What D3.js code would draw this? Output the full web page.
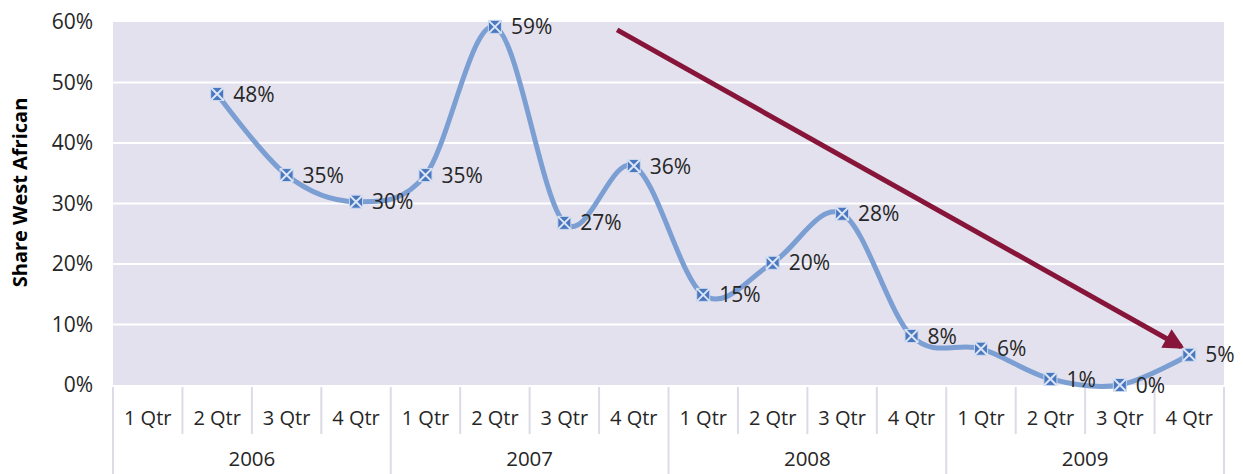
<!DOCTYPE html>
<html>
<head>
<meta charset="utf-8">
<script src="https://cdn.jsdelivr.net/npm/d3@7"></script>
<style>
  html, body { margin: 0; padding: 0; background: #ffffff; }
  svg { display: block; font-family: "Open Sans", "DejaVu Sans", sans-serif; }
</style>
</head>
<body>
<svg id="chart" width="1243" height="474"></svg>
<script>
// Quarterly share of West African, 2006–2009
const years = ["2006", "2007", "2008", "2009"];
const quarters = ["1 Qtr", "2 Qtr", "3 Qtr", "4 Qtr"];
const shareValues = [
  null, 0.481, 0.347, 0.303,
  0.347, 0.592, 0.268, 0.362,
  0.149, 0.202, 0.283, 0.081,
  0.060, 0.010, 0.000, 0.050
];
const yTicks = [0, 0.1, 0.2, 0.3, 0.4, 0.5, 0.6];
// downward trend arrow, in category-index / value units
const trendFrom = { index: 6.76, value: 0.587 };
const trendTo = { index: 14.94, value: 0.0595 };

const svg = d3.select("#chart");
const W = 1243, H = 474;
const plot = { left: 113, right: 1224, top: 22, bottom: 385 };
const textColor = "#262626";

const categories = [];
years.forEach(y => quarters.forEach(q => categories.push({ key: y + "|" + q, year: y, quarter: q })));

const x = d3.scaleBand()
  .domain(categories.map(c => c.key))
  .range([plot.left, plot.right]);
const xc = key => x(key) + x.bandwidth() / 2;
const xIdx = i => plot.left + (i + 0.5) * x.bandwidth();

const y = d3.scaleLinear().domain([0, 0.6]).range([plot.bottom, plot.top]);

// plot background
svg.append("rect")
  .attr("x", plot.left).attr("y", plot.top)
  .attr("width", plot.right - plot.left).attr("height", plot.bottom - plot.top)
  .attr("fill", "#e3e1ed");

// horizontal gridlines
svg.append("g")
  .selectAll("line")
  .data(yTicks.slice(1, -1))
  .join("line")
  .attr("x1", plot.left).attr("x2", plot.right)
  .attr("y1", d => y(d)).attr("y2", d => y(d))
  .attr("stroke", "#ffffff").attr("stroke-width", 2);

// y axis labels
const yAxis = d3.axisLeft(y).tickValues(yTicks).tickFormat(d3.format(".0%")).tickSize(0).tickPadding(20);
const yg = svg.append("g").attr("transform", `translate(${plot.left},0)`).call(yAxis);
yg.select(".domain").remove();
yg.selectAll("text")
  .attr("font-size", 21).attr("fill", textColor)
  .attr("font-family", "'Open Sans', sans-serif");

// y axis title
svg.append("text")
  .attr("transform", `translate(27,${(plot.top + plot.bottom) / 2 - 11}) rotate(-90)`)
  .attr("text-anchor", "middle")
  .attr("font-size", 20).attr("font-weight", "bold").attr("fill", "#000")
  .text("Share West African");

// category axis: quarter and year dividers
const axisG = svg.append("g");
const divColor = "#dcdbe7";
categories.forEach((c, i) => {
  const xl = x(c.key);
  const isYearStart = i % 4 === 0;
  axisG.append("line")
    .attr("x1", xl).attr("x2", xl)
    .attr("y1", plot.bottom + 2)
    .attr("y2", isYearStart ? H : 434)
    .attr("stroke", divColor).attr("stroke-width", 2);
});
axisG.append("line")
  .attr("x1", plot.right).attr("x2", plot.right)
  .attr("y1", plot.bottom + 2).attr("y2", H)
  .attr("stroke", divColor).attr("stroke-width", 2);

axisG.selectAll("text.q")
  .data(categories)
  .join("text")
  .attr("class", "q")
  .attr("x", d => xc(d.key)).attr("y", 425)
  .attr("text-anchor", "middle")
  .attr("font-size", 20).attr("fill", textColor)
  .text(d => d.quarter);

axisG.selectAll("text.yr")
  .data(years)
  .join("text")
  .attr("class", "yr")
  .attr("x", d => (x(d + "|1 Qtr") + x(d + "|4 Qtr") + x.bandwidth()) / 2)
  .attr("y", 466)
  .attr("text-anchor", "middle")
  .attr("font-size", 20.5).attr("fill", textColor)
  .text(d => d);

// data points
const pts = shareValues
  .map((v, i) => ({ v, i, key: categories[i].key }))
  .filter(d => d.v !== null);

// smoothed series line
const line = d3.line()
  .x(d => xc(d.key)).y(d => y(d.v))
  .curve(d3.curveCatmullRom.alpha(0));

svg.append("path")
  .datum(pts)
  .attr("d", line)
  .attr("fill", "none")
  .attr("stroke", "#7b9ed3")
  .attr("stroke-width", 5)
  .attr("stroke-linecap", "round");

// trend arrow
const defs = svg.append("defs");
defs.append("marker")
  .attr("id", "arrowhead")
  .attr("viewBox", "0 0 10 10")
  .attr("refX", 8).attr("refY", 5)
  .attr("markerWidth", 4.6).attr("markerHeight", 4.2)
  .attr("markerUnits", "strokeWidth")
  .attr("orient", "auto")
  .append("path")
  .attr("d", "M0,0 L10,5 L0,10 Z")
  .attr("fill", "#861539");

const ax1 = xIdx(trendFrom.index), ay1 = y(trendFrom.value);
const tipX = xIdx(trendTo.index), tipY = y(trendTo.value);
const len = Math.hypot(tipX - ax1, tipY - ay1);
const back = 0.2 * 4.6 * 5;   // part of the head that sits past the line end
svg.append("line")
  .attr("x1", ax1).attr("y1", ay1)
  .attr("x2", tipX - (tipX - ax1) / len * back)
  .attr("y2", tipY - (tipY - ay1) / len * back)
  .attr("stroke", "#861539").attr("stroke-width", 5)
  .attr("marker-end", "url(#arrowhead)");

// markers
const m = svg.append("g")
  .selectAll("g")
  .data(pts)
  .join("g")
  .attr("transform", d => `translate(${xc(d.key)},${y(d.v)})`);
const s = 6.5;
m.append("rect")
  .attr("x", -s).attr("y", -s).attr("width", 2 * s).attr("height", 2 * s)
  .attr("fill", "#4a78c0").attr("stroke", "#c9d7ee").attr("stroke-width", 1);
m.append("path")
  .attr("d", `M${-s},${-s}L${s},${s}M${s},${-s}L${-s},${s}`)
  .attr("stroke", "#dbe5f4").attr("stroke-width", 2);

// value labels
svg.append("g")
  .selectAll("text")
  .data(pts)
  .join("text")
  .attr("x", d => xc(d.key) + 16)
  .attr("y", d => y(d.v))
  .attr("dy", "0.36em")
  .attr("font-size", 21).attr("fill", textColor)
  .text(d => d3.format(".0%")(d.v));
</script>
</body>
</html>
